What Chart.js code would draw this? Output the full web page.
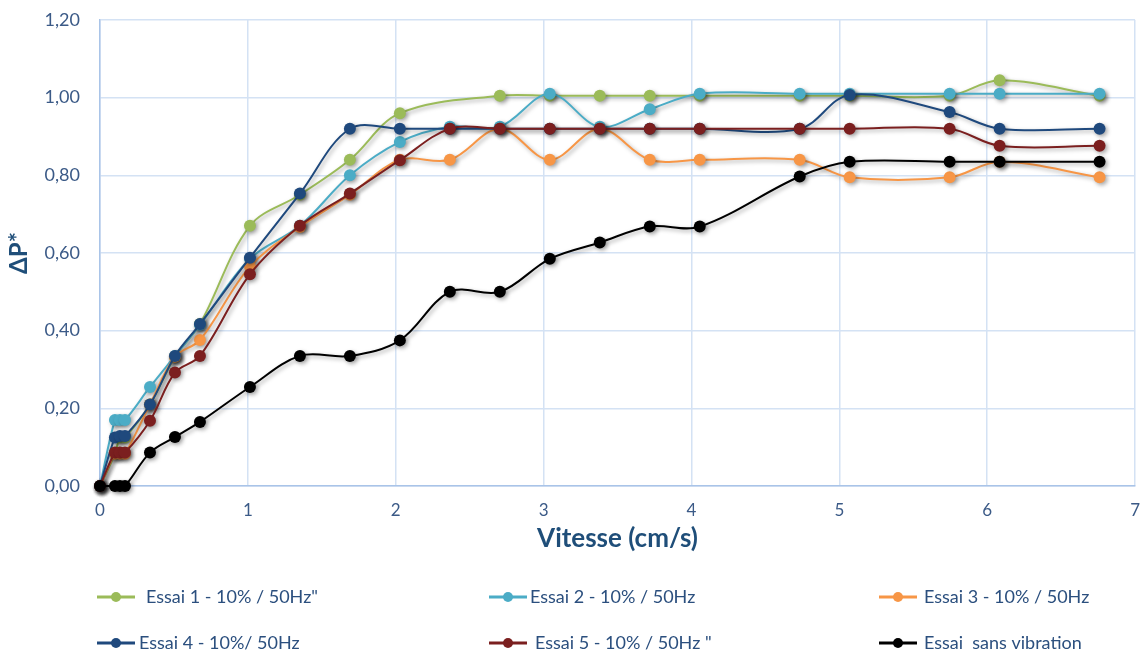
<!DOCTYPE html>
<html>
<head>
<meta charset="utf-8">
<script src="https://cdn.jsdelivr.net/npm/chart.js@4.4.1/dist/chart.umd.min.js"></script>
<style>
html, body { margin: 0; padding: 0; background: #fff; }
</style>
</head>
<body>
<canvas id="vitesse-chart" width="1143" height="654"></canvas>
<script>
// vitesse (cm/s), shared by every series
var vitesse = [0, 0.101, 0.135, 0.169, 0.338, 0.507, 0.676, 1.014, 1.352, 1.69, 2.028, 2.366, 2.704, 3.042, 3.38, 3.718, 4.056, 4.732, 5.07, 5.746, 6.084, 6.76];

// delta P* per series (null = no point there)
var essai1 = [0, 0.083, 0.125, 0.125, 0.21, 0.333, 0.417, 0.67, 0.75, 0.84, 0.96, null, 1.005, 1.005, 1.005, 1.005, 1.005, 1.005, 1.005, 1.005, 1.045, 1.005];
var essai2 = [0, 0.17, 0.17, 0.17, 0.255, 0.335, 0.415, 0.585, 0.67, 0.80, 0.886, 0.925, 0.925, 1.01, 0.925, 0.97, 1.01, 1.01, 1.01, 1.01, 1.01, 1.01];
var essai3 = [0, 0.083, 0.083, 0.083, 0.21, 0.333, 0.376, 0.565, 0.667, 0.75, 0.84, 0.84, 0.92, 0.84, 0.92, 0.84, 0.84, 0.84, 0.795, 0.795, 0.835, 0.795];
var essai4 = [0, 0.125, 0.129, 0.129, 0.21, 0.335, 0.417, 0.588, 0.753, 0.92, 0.92, 0.92, 0.92, 0.92, 0.92, 0.92, 0.92, 0.92, 1.007, 0.963, 0.92, 0.92];
var essai5 = [0, 0.086, 0.086, 0.086, 0.168, 0.292, 0.335, 0.545, 0.67, 0.753, 0.839, 0.92, 0.92, 0.92, 0.92, 0.92, 0.92, 0.92, 0.92, 0.92, 0.876, 0.876];
var sansVibration = [0, 0, 0, 0, 0.086, 0.126, 0.165, 0.255, 0.335, 0.335, 0.375, 0.5, 0.5, 0.585, 0.627, 0.668, 0.668, 0.797, 0.835, 0.835, 0.835, 0.835];

var seriesNames = ['Essai 1 - 10% / 50Hz"', 'Essai 2 - 10% / 50Hz', 'Essai 3 - 10% / 50Hz', 'Essai 4 - 10%/ 50Hz', 'Essai 5 - 10% / 50Hz "', 'Essai  sans vibration'];
var seriesValues = [essai1, essai2, essai3, essai4, essai5, sansVibration];
var seriesColors = ['#9bbb59', '#4bacc6', '#f79646', '#1f497d', '#7b1f1f', '#000000'];

var xTicks = [0, 1, 2, 3, 4, 5, 6, 7];

// excel-like drop shadow under lines and markers
const ombre = {
    id: 'ombre',
    beforeDatasetsDraw(chart) {
        const ctx = chart.ctx;
        ctx.save();
        ctx.shadowColor = 'rgba(0,0,0,0.35)';
        ctx.shadowBlur = 4;
        ctx.shadowOffsetX = 2;
        ctx.shadowOffsetY = 2;
    },
    afterDatasetsDraw(chart) {
        chart.ctx.restore();
    }
};

// legend in 3 columns x 2 rows under the chart
const legende = {
    id: 'legende',
    afterDraw(chart) {
        const ctx = chart.ctx;
        const slots = [
            {lx: 97, tx: 146, y: 597}, {lx: 489, tx: 530, y: 597}, {lx: 879, tx: 924, y: 597},
            {lx: 97, tx: 139, y: 643}, {lx: 489, tx: 535, y: 643}, {lx: 879, tx: 924, y: 643}
        ];
        ctx.save();
        chart.data.datasets.forEach(function(ds, i) {
            const s = slots[i];
            ctx.strokeStyle = ds.borderColor;
            ctx.lineWidth = 3;
            ctx.beginPath();
            ctx.moveTo(s.lx, s.y);
            ctx.lineTo(s.lx + 38, s.y);
            ctx.stroke();
            ctx.fillStyle = ds.backgroundColor;
            ctx.beginPath();
            ctx.arc(s.lx + 19, s.y, 5, 0, Math.PI * 2);
            ctx.fill();
            ctx.fillStyle = '#2b4f7e';
            ctx.font = '18px Lato';
            ctx.textBaseline = 'middle';
            ctx.textAlign = 'left';
            ctx.fillText(ds.label, s.tx, s.y);
        });
        ctx.restore();
    }
};

var ctx = document.getElementById('vitesse-chart').getContext('2d');
var myChart = new Chart(ctx, {
    type: 'line',
    data: {
        datasets: seriesNames.map(function(name, i) {
            return {
                label: name,
                data: vitesse.map(function(v, j) { return {x: v, y: seriesValues[i][j]}; }),
                borderColor: seriesColors[i],
                backgroundColor: seriesColors[i],
                borderWidth: 2,
                pointRadius: 6,
                pointBorderWidth: 0,
                pointHoverRadius: 6,
                tension: 0.35,
                spanGaps: true,
                fill: false,
                clip: false,
                order: seriesNames.length - 1 - i
            };
        })
    },
    options: {
        responsive: false,
        animation: false,
        layout: {
            padding: { left: 0, right: 0, top: 20, bottom: 98 }
        },
        plugins: {
            legend: { display: false },
            tooltip: { enabled: false },
            title: { display: false }
        },
        scales: {
            x: {
                type: 'linear',
                min: 0,
                max: 7,
                afterFit: function(axis) { axis.height = 70; },
                afterBuildTicks: function(axis) { axis.ticks = xTicks.map(function(v) { return {value: v}; }); },
                grid: { color: '#d4e2f4', lineWidth: 1.5, drawTicks: true, tickLength: 11, tickColor: 'rgba(0,0,0,0)' },
                border: { color: '#a9c4e8', width: 1.5 },
                ticks: {
                    padding: 3,
                    color: '#3b5a87',
                    font: { family: 'Lato', size: 17 },
                    callback: function(v) { return String(v); }
                },
                title: {
                    display: true,
                    text: 'Vitesse (cm/s)',
                    color: '#1f4e79',
                    font: { family: 'Lato', size: 26, weight: 'bold' },
                    padding: { top: 0, bottom: 2 }
                }
            },
            y: {
                min: 0,
                max: 1.2,
                afterFit: function(axis) { axis.width = 100; },
                grid: { color: '#d4e2f4', lineWidth: 1.5, drawTicks: true, tickLength: 17, tickColor: 'rgba(0,0,0,0)' },
                border: { color: '#a9c4e8', width: 1.5 },
                ticks: {
                    stepSize: 0.2,
                    padding: 3,
                    color: '#3b5a87',
                    font: { family: 'Lato', size: 18 },
                    callback: function(v) { return v.toFixed(2).replace('.', ','); }
                },
                title: {
                    display: true,
                    text: 'ΔP*',
                    color: '#1f4e79',
                    font: { family: 'Lato', size: 24, weight: 'bold' },
                    padding: { top: 5, bottom: 0 }
                }
            }
        }
    },
    plugins: [ombre, legende]
});
</script>
</body>
</html>
